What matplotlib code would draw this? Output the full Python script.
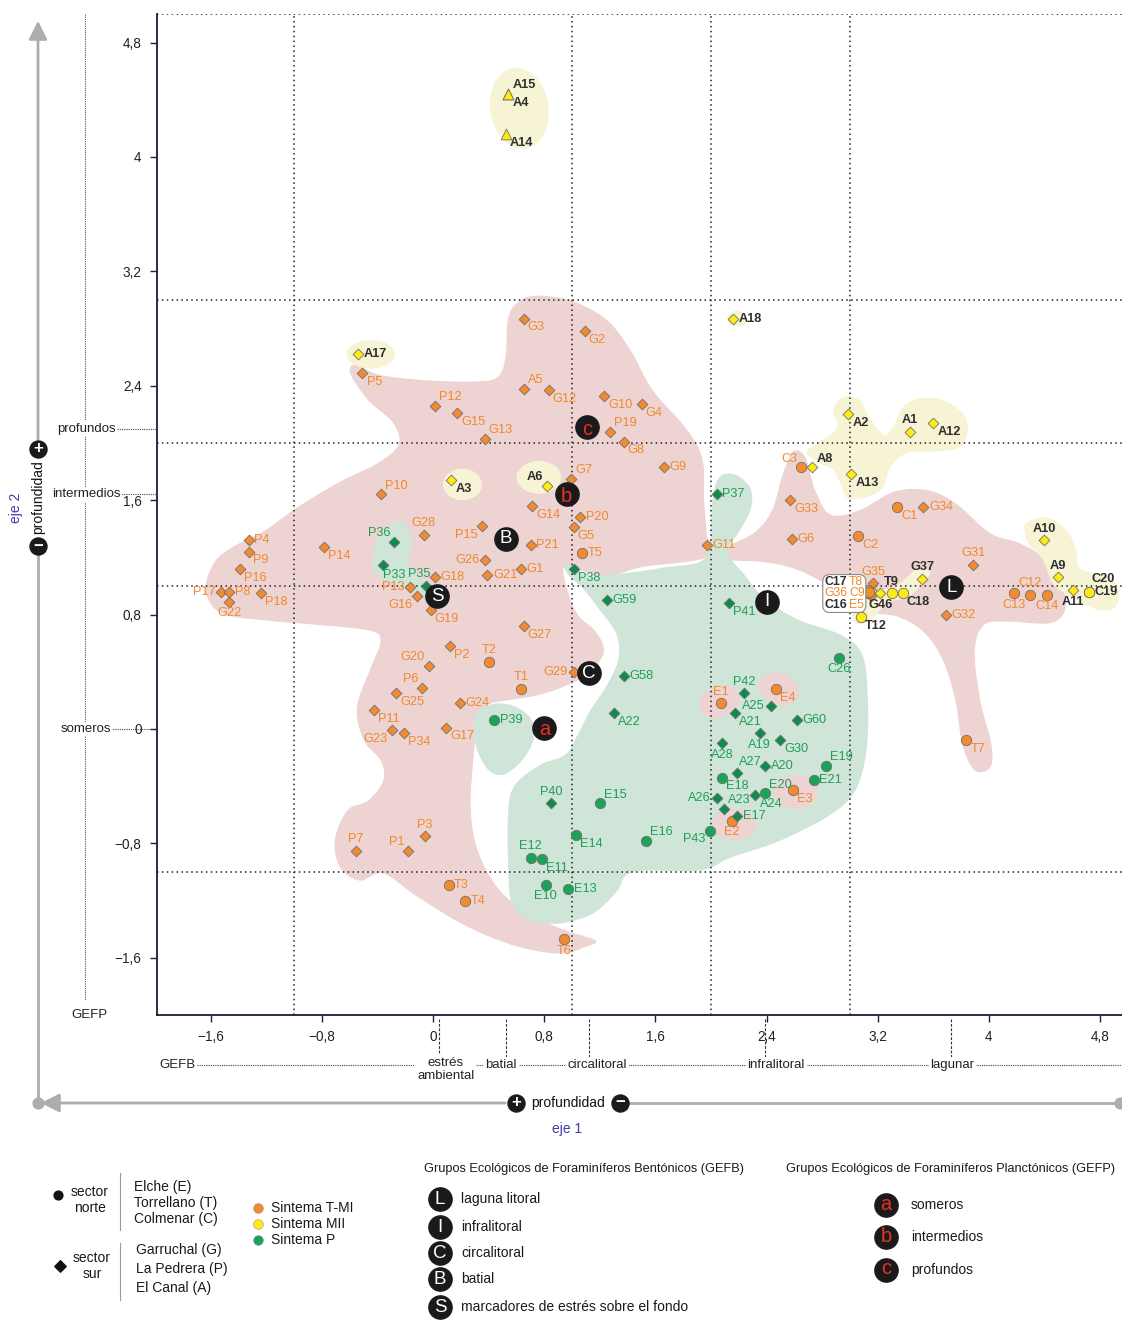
import numpy as np
import matplotlib
matplotlib.use("Agg")
import matplotlib.pyplot as plt
from matplotlib import font_manager, transforms
from matplotlib.patches import Polygon, Ellipse, FancyBboxPatch
from matplotlib.ticker import FuncFormatter

# ---------------------------------------------------------------- samples
# Sintema T-MI, sector sur (diamonds)
tmi_sur_names = ['P5', 'P12', 'G15', 'G13', 'G3', 'G2', 'A5', 'G12', 'G10', 'G4',
                 'P19', 'G8', 'G9', 'G7', 'G14', 'P20', 'G5', 'P15', 'P21', 'P10',
                 'G28', 'P4', 'P9', 'P14', 'P16', 'P17', 'P8', 'G22', 'P18', 'G18',
                 'P13', 'G16', 'G19', 'G26', 'G1', 'G21', 'G27', 'P2', 'G20', 'P6',
                 'G25', 'P11', 'G23', 'P34', 'G17', 'G24', 'G29', 'G11', 'G33', 'G6',
                 'G34', 'G31', 'G35', 'G32', 'G36', 'P3', 'P7', 'P1']
tmi_sur_x = [-0.51, 0.01, 0.17, 0.37, 0.65, 1.09, 0.65, 0.83, 1.23, 1.50,
             1.27, 1.37, 1.66, 0.99, 0.71, 1.06, 1.01, 0.35, 0.70, -0.38,
             -0.07, -1.33, -1.33, -0.79, -1.39, -1.53, -1.47, -1.47, -1.24, 0.01,
             -0.17, -0.12, -0.02, 0.37, 0.63, 0.39, 0.65, 0.12, -0.03, -0.08,
             -0.27, -0.43, -0.30, -0.21, 0.09, 0.19, 1.01, 1.97, 2.57, 2.58,
             3.53, 3.89, 3.17, 3.69, 3.15, -0.06, -0.56, -0.18]
tmi_sur_y = [2.49, 2.26, 2.21, 2.03, 2.87, 2.78, 2.38, 2.37, 2.33, 2.27,
             2.08, 2.01, 1.83, 1.75, 1.56, 1.48, 1.41, 1.42, 1.29, 1.64,
             1.36, 1.32, 1.24, 1.27, 1.12, 0.96, 0.96, 0.89, 0.95, 1.06,
             0.99, 0.93, 0.83, 1.18, 1.12, 1.08, 0.72, 0.58, 0.44, 0.29,
             0.25, 0.13, -0.01, -0.03, 0.01, 0.18, 0.40, 1.29, 1.60, 1.33,
             1.55, 1.15, 1.02, 0.80, 0.93, -0.75, -0.85, -0.85]

# Sintema T-MI, sector norte (circles)
tmi_norte_names = ['T5', 'T2', 'T1', 'C3', 'C1', 'C2', 'T8', 'E5', 'C9', 'C13',
                   'C12', 'C14', 'T7', 'E1', 'E4', 'E3', 'E2', 'T3', 'T4', 'T6']
tmi_norte_x = [1.07, 0.40, 0.63, 2.65, 3.34, 3.06, 3.13, 3.13, 3.14, 4.18,
               4.30, 4.42, 3.84, 2.07, 2.47, 2.59, 2.15, 0.11, 0.23, 0.94]
tmi_norte_y = [1.23, 0.47, 0.28, 1.83, 1.55, 1.35, 0.97, 0.95, 0.96, 0.95,
               0.94, 0.94, -0.08, 0.18, 0.28, -0.43, -0.64, -1.09, -1.20, -1.47]

# Sintema MII, sector sur (diamonds)
mii_sur_names = ['A17', 'A3', 'A6', 'A18', 'A2', 'A1', 'A12', 'A8', 'A13', 'A10',
                 'A9', 'A11', 'G37', 'G46']
mii_sur_x = [-0.54, 0.13, 0.82, 2.16, 2.99, 3.43, 3.60, 2.73, 3.01, 4.40,
             4.50, 4.61, 3.52, 3.22]
mii_sur_y = [2.62, 1.74, 1.70, 2.87, 2.20, 2.08, 2.14, 1.83, 1.78, 1.32,
             1.06, 0.97, 1.05, 0.95]

# Sintema MII, sector sur, off the lower scale (triangles)
mii_high_names = ['A15', 'A4', 'A14']
mii_high_x = [0.54, 0.54, 0.52]
mii_high_y = [4.44, 4.44, 4.16]

# Sintema MII, sector norte (circles)
mii_norte_names = ['C17', 'C16', 'T9', 'C18', 'T12', 'C19', 'C20']
mii_norte_x = [3.15, 3.15, 3.30, 3.38, 3.08, 4.72, 4.72]
mii_norte_y = [0.96, 0.96, 0.95, 0.95, 0.78, 0.96, 0.96]

# Sintema P, sector sur (diamonds)
p_sur_names = ['P36', 'P33', 'P35', 'P37', 'P38', 'G59', 'G58', 'A22', 'P41', 'P42',
               'A25', 'A21', 'G60', 'A19', 'G30', 'A28', 'A20', 'A27', 'A24', 'A26',
               'A23', 'E17', 'P40']
p_sur_x = [-0.28, -0.36, -0.05, 2.04, 1.01, 1.25, 1.37, 1.30, 2.13, 2.24,
           2.43, 2.17, 2.62, 2.35, 2.50, 2.08, 2.39, 2.19, 2.32, 2.04,
           2.09, 2.19, 0.85]
p_sur_y = [1.31, 1.15, 1.00, 1.64, 1.12, 0.90, 0.37, 0.11, 0.88, 0.25,
           0.16, 0.11, 0.06, -0.03, -0.08, -0.10, -0.26, -0.31, -0.46, -0.48,
           -0.56, -0.61, -0.52]

# Sintema P, sector norte (circles)
p_norte_names = ['P39', 'C26', 'E19', 'E18', 'E21', 'E20', 'P43', 'E15', 'E14', 'E16',
                 'E12', 'E11', 'E10', 'E13']
p_norte_x = [0.44, 2.92, 2.83, 2.08, 2.74, 2.39, 1.99, 1.20, 1.03, 1.53,
             0.70, 0.78, 0.81, 0.97]
p_norte_y = [0.06, 0.50, -0.26, -0.34, -0.36, -0.45, -0.71, -0.52, -0.74, -0.78,
             -0.90, -0.91, -1.09, -1.12]

# centroids of the ecological groups
gefb_letters = ['L', 'I', 'C', 'B', 'S']
gefb_x = [3.73, 2.40, 1.12, 0.52, 0.03]
gefb_y = [0.99, 0.89, 0.39, 1.33, 0.93]
gefp_letters = ['a', 'b', 'c']
gefp_x = [0.80, 0.96, 1.11]
gefp_y = [0.01, 1.64, 2.11]

# GEFB zones along eje 1, GEFP levels along eje 2
gefb_breaks = [0.04, 0.52, 1.12, 2.39, 3.73]
gefb_zone_names = ['estrés\nambiental', 'batial', 'circalitoral', 'infralitoral', 'lagunar']
gefb_zone_x = [0.09, 0.49, 1.18, 2.47, 3.74]
gefp_level_names = ['profundos', 'intermedios', 'someros']
gefp_levels = [2.10, 1.64, 0.0]

# ---------------------------------------------------------------- envelopes
pink_main_x = [-1.64, -1.58, -1.45, -1.21, -0.98, -0.67, -0.40, -0.25, -0.29, -0.47,
               -0.60, -0.55, -0.40, -0.07, 0.29, 0.46, 0.52, 0.54, 0.63, 0.77,
               1.01, 1.25, 1.42, 1.58, 1.83, 1.94, 1.95, 1.97, 1.97, 1.49,
               1.25, 1.06, 0.94, 0.97, 1.04, 1.17, 1.23, 1.16, 1.02, 0.77,
               0.53, 0.40, 0.32, 0.29, 0.27, 0.32, 0.48, 0.72, 0.96, 1.17,
               1.08, 0.91, 0.60, 0.24, -0.12, -0.36, -0.53, -0.67, -0.71, -0.62,
               -0.47, -0.36, -0.38, -0.50, -0.55, -0.45, -0.38, -0.47, -0.86, -1.22,
               -1.53]
pink_main_y = [0.97, 1.16, 1.27, 1.39, 1.55, 1.73, 1.86, 1.99, 2.14, 2.30,
               2.49, 2.55, 2.48, 2.44, 2.43, 2.46, 2.60, 2.88, 3.00, 3.03,
               2.99, 2.86, 2.65, 2.37, 2.09, 1.88, 1.60, 1.36, 1.20, 1.13,
               1.06, 1.11, 1.13, 0.96, 0.80, 0.68, 0.55, 0.43, 0.33, 0.24,
               0.20, 0.17, 0.06, -0.20, -0.55, -0.85, -1.13, -1.31, -1.41, -1.48,
               -1.53, -1.57, -1.52, -1.38, -1.17, -1.01, -1.06, -0.97, -0.78, -0.57,
               -0.50, -0.36, -0.22, -0.08, 0.15, 0.43, 0.62, 0.69, 0.73, 0.76,
               0.81]

pink_right_x = [1.96, 2.14, 2.32, 2.44, 2.51, 2.59, 2.68, 2.75, 2.86, 3.07,
                3.32, 3.56, 3.76, 4.01, 4.22, 4.42, 4.53, 4.55, 4.44, 4.15,
                3.97, 3.90, 3.94, 4.02, 4.01, 3.90, 3.81, 3.76, 3.67, 3.54,
                3.36, 3.14, 3.00, 2.78, 2.57, 2.35, 2.14]
pink_right_y = [1.23, 1.29, 1.38, 1.53, 1.76, 1.94, 1.90, 1.67, 1.50, 1.53,
                1.66, 1.67, 1.58, 1.37, 1.30, 1.18, 1.01, 0.83, 0.74, 0.75,
                0.73, 0.55, 0.20, -0.11, -0.27, -0.29, -0.11, 0.20, 0.48, 0.67,
                0.78, 0.82, 0.90, 1.04, 1.13, 1.17, 1.18]

green_main_x = [0.95, 1.13, 1.38, 1.67, 1.92, 1.99, 2.01, 2.06, 2.17, 2.28,
                2.29, 2.21, 2.12, 2.24, 2.40, 2.64, 2.93, 3.09, 3.13, 3.12,
                3.04, 2.86, 2.50, 2.14, 1.92, 1.44, 1.32, 1.15, 0.91, 0.70,
                0.57, 0.54, 0.54, 0.59, 0.77, 0.95, 1.04, 1.13, 1.24, 1.33,
                1.32, 1.20, 1.07, 0.97]
green_main_y = [1.16, 1.08, 1.09, 1.13, 1.17, 1.29, 1.60, 1.76, 1.78, 1.69,
                1.55, 1.39, 1.24, 1.08, 0.90, 0.76, 0.66, 0.52, 0.20, -0.15,
                -0.43, -0.60, -0.78, -0.90, -0.99, -1.00, -1.14, -1.29, -1.36, -1.34,
                -1.23, -0.99, -0.57, -0.39, -0.25, -0.18, -0.04, 0.13, 0.29, 0.48,
                0.66, 0.83, 0.99, 1.08]

green_p36_x = [-0.44, -0.40, -0.27, -0.18, -0.15, -0.18, -0.09, 0.00, -0.06, -0.20, -0.35, -0.43]
green_p36_y = [1.18, 1.34, 1.45, 1.41, 1.29, 1.15, 1.06, 0.97, 0.93, 0.99, 1.04, 1.10]

green_p39_x = [0.31, 0.41, 0.55, 0.68, 0.73, 0.70, 0.61, 0.50, 0.40, 0.32, 0.29]
green_p39_y = [0.10, 0.17, 0.17, 0.10, -0.01, -0.13, -0.25, -0.32, -0.29, -0.16, -0.02]

yellow_a2_x = [2.88, 2.95, 3.07, 3.14, 3.24, 3.31, 3.38, 3.50, 3.67, 3.81,
               3.85, 3.79, 3.60, 3.41, 3.29, 3.24, 3.12, 2.98, 2.93, 2.88,
               2.78, 2.69, 2.76, 2.88, 2.91]
yellow_a2_y = [2.23, 2.32, 2.30, 2.18, 2.06, 2.11, 2.25, 2.31, 2.30, 2.21,
               2.09, 1.97, 1.94, 1.93, 1.83, 1.69, 1.62, 1.62, 1.72, 1.81,
               1.86, 1.93, 2.00, 2.07, 2.14]

yellow_a10_x = [4.27, 4.42, 4.56, 4.63, 4.65, 4.76, 4.88, 4.94, 4.91, 4.80,
                4.68, 4.56, 4.46, 4.39, 4.29, 4.26]
yellow_a10_y = [1.44, 1.48, 1.39, 1.25, 1.13, 1.09, 1.06, 0.96, 0.85, 0.83,
                0.88, 0.94, 1.02, 1.18, 1.29, 1.37]

yellow_t12_x = [3.02, 3.07, 3.17, 3.27, 3.41, 3.50, 3.58, 3.50, 3.41, 3.31, 3.19, 3.09, 3.04]
yellow_t12_y = [0.78, 0.73, 0.78, 0.88, 0.92, 0.99, 1.09, 1.13, 1.06, 0.99, 0.97, 0.90, 0.85]

# small envelopes: centre x, centre y, width, height, angle
yellow_spots = [(0.62, 4.34, 0.42, 0.57, 10), (-0.45, 2.62, 0.35, 0.20, 0),
                (0.21, 1.71, 0.28, 0.22, 0), (0.76, 1.76, 0.32, 0.23, 0),
                (2.19, 2.87, 0.14, 0.11, 0)]
pink_spots = [(2.06, 0.19, 0.30, 0.22, 20), (2.49, 0.28, 0.30, 0.22, -20),
              (2.61, -0.44, 0.32, 0.24, 0), (2.17, -0.67, 0.32, 0.22, 0)]

# ---------------------------------------------------------------- styles
PINK, GREEN_BG, YELLOW_BG = '#EDD4D2', '#CFE5D7', '#F7F3D5'
ORANGE, YELLOW, GREEN_DOT, GREEN_DIA = '#F28A30', '#FFEA12', '#1CA35A', '#0E8C4A'
ORANGE_TXT, GREEN_TXT, DARK_TXT = '#F0882E', '#1E9F57', '#2E2E2E'
BLUE_TXT = '#3D3DAB'
GRID = '#222222'
DOTS = (0, (1, 2.2))
LABEL_FS = 9.2

label_side = {
    'P5': 'br', 'P12': 'ar', 'G15': 'br', 'G13': 'ar', 'G3': 'br', 'G2': 'br', 'A5': 'ar',
    'G12': 'br', 'G10': 'br', 'G4': 'br', 'P19': 'ar', 'G8': 'br', 'G7': 'ar', 'G14': 'br',
    'G5': 'br', 'P15': 'bl', 'P10': 'ar', 'G28': 'a', 'P9': 'br', 'P14': 'br', 'P16': 'br',
    'P17': 'l', 'G22': 'b', 'P18': 'br', 'P13': 'l', 'G16': 'bl', 'G19': 'br', 'G26': 'l',
    'G27': 'br', 'P2': 'br', 'G20': 'al', 'P6': 'al', 'G25': 'br', 'P11': 'br', 'G23': 'bl',
    'P34': 'br', 'G17': 'br', 'G29': 'l', 'G33': 'br', 'G31': 'a', 'G35': 'a', 'P3': 'a',
    'P7': 'a', 'P1': 'al',
    'T2': 'a', 'T1': 'a', 'C3': 'al', 'C1': 'br', 'C2': 'br', 'C13': 'b', 'C12': 'a',
    'C14': 'b', 'T7': 'br', 'E1': 'a', 'E4': 'br', 'E3': 'br', 'E2': 'b', 'T6': 'b',
    'A3': 'br', 'A6': 'al', 'A2': 'br', 'A1': 'a', 'A12': 'br', 'A8': 'ar', 'A13': 'br',
    'A10': 'a', 'A9': 'a', 'A11': 'b', 'G37': 'a', 'G46': 'b', 'A15': 'ar', 'A4': 'br',
    'A14': 'br', 'T9': 'a', 'C18': 'br', 'T12': 'br', 'C20': (2, 5, 'left', 'bottom'),
    'P36': 'al', 'P33': (0, -3, 'left', 'top'), 'P35': (3, 4, 'right', 'bottom'),
    'P38': 'br', 'A22': 'br', 'P41': 'br', 'P42': 'a',
    'A25': 'l', 'A21': 'br', 'A19': 'b', 'G30': 'br', 'A28': 'b', 'A27': (1, 4, 'left', 'bottom'),
    'A24': 'br', 'A26': 'l', 'A23': 'ar', 'P40': 'a', 'C26': 'b', 'E19': 'ar', 'E18': 'br',
    'E20': 'ar', 'P43': 'bl', 'E15': 'ar', 'E14': 'br', 'E16': 'ar', 'E12': 'a', 'E11': 'br',
    'E10': 'b',
}
# crowded cluster: names written inside a small framed box
box_labels = {'C17': (2.90, 1.03), 'T8': (3.045, 1.03), 'G36': (2.90, 0.95),
              'C9': (3.05, 0.95), 'C16': (2.90, 0.87), 'E5': (3.05, 0.87)}
OFFSETS = {'r': (4, 0, 'left', 'center'), 'l': (-4, 0, 'right', 'center'),
           'a': (0, 4, 'center', 'bottom'), 'b': (0, -4, 'center', 'top'),
           'ar': (3, 2, 'left', 'bottom'), 'br': (3, -2, 'left', 'top'),
           'al': (-3, 2, 'right', 'bottom'), 'bl': (-3, -2, 'right', 'top')}

installed = {f.name for f in font_manager.fontManager.ttflist}
NARROW = 'Liberation Sans Narrow' if 'Liberation Sans Narrow' in installed else 'Liberation Sans'
LEG_FS = 11 if NARROW == 'Liberation Sans Narrow' else 10
TITLE_FS = 11 if NARROW == 'Liberation Sans Narrow' else 9.2
plt.rcParams['font.family'] = ['Liberation Sans', 'DejaVu Sans']


def smooth_closed(xs, ys, n=14):
    """Closed Catmull-Rom curve through the outline vertices."""
    pts = np.column_stack([xs, ys])
    t = np.linspace(0, 1, n, endpoint=False)[:, None]
    segs = []
    for i in range(len(pts)):
        p0, p1 = pts[i - 1], pts[i]
        p2, p3 = pts[(i + 1) % len(pts)], pts[(i + 2) % len(pts)]
        segs.append(0.5 * (2 * p1 + (p2 - p0) * t + (2 * p0 - 5 * p1 + 4 * p2 - p3) * t ** 2
                           + (3 * p1 - p0 - 3 * p2 + p3) * t ** 3))
    return np.vstack(segs)


def tick_fmt(v, pos):
    s = f"{round(v, 1) + 0.0:.1f}".rstrip('0').rstrip('.')
    return s.replace('.', ',').replace('-', '\u2212')


# ---------------------------------------------------------------- figure
fig = plt.figure(figsize=(11.22, 13.2), dpi=100)
ov = fig.add_axes([0, 0, 1, 1], zorder=0)
ov.set_xlim(0, 1122)
ov.set_ylim(1320, 0)
ov.axis('off')

ax = fig.add_axes([157 / 1122, 1 - 1015 / 1320, 965 / 1122, 1001 / 1320], zorder=1)
ax.set_xlim(-1.99, 4.96)
ax.set_ylim(-2.0, 5.0)
ax.patch.set_alpha(0)

# envelopes
for xs, ys, col in [(pink_main_x, pink_main_y, PINK), (pink_right_x, pink_right_y, PINK),
                    (green_main_x, green_main_y, GREEN_BG), (green_p36_x, green_p36_y, GREEN_BG),
                    (green_p39_x, green_p39_y, GREEN_BG), (yellow_a2_x, yellow_a2_y, YELLOW_BG),
                    (yellow_a10_x, yellow_a10_y, YELLOW_BG), (yellow_t12_x, yellow_t12_y, YELLOW_BG)]:
    ax.add_patch(Polygon(smooth_closed(xs, ys), closed=True, fc=col, ec='none', zorder=1))
for spots, col in [(yellow_spots, YELLOW_BG), (pink_spots, PINK)]:
    for cx, cy, w, h, ang in spots:
        ax.add_patch(Ellipse((cx, cy), w, h, angle=ang, fc=col, ec='none', zorder=1.1))

# axes, ticks and dotted grid
ax.set_xticks(np.arange(-1.6, 4.81, 0.8))
ax.set_yticks(np.arange(-1.6, 4.81, 0.8))
ax.set_xticks(np.arange(-1, 5), minor=True)
ax.set_yticks(np.arange(-1, 6), minor=True)
ax.xaxis.set_major_formatter(FuncFormatter(tick_fmt))
ax.yaxis.set_major_formatter(FuncFormatter(tick_fmt))
ax.grid(which='minor', color=GRID, lw=1.1, ls=DOTS)
ax.tick_params(which='minor', length=0)
ax.tick_params(which='major', length=5, width=1, color='#222233', labelsize=9.8,
               labelcolor='#222222', pad=6)
for side in ['top', 'right']:
    ax.spines[side].set_visible(False)
for side in ['left', 'bottom']:
    ax.spines[side].set_color('#1C1C30')
    ax.spines[side].set_linewidth(1.3)


def draw_group(names, xs, ys, marker, size, face, txt_col, weight='normal'):
    ax.scatter(xs, ys, marker=marker, s=size, c=face, edgecolors='#707070',
               linewidths=0.6, zorder=4, clip_on=False)
    for n, x, y in zip(names, xs, ys):
        if n in box_labels:
            continue
        side = label_side.get(n, 'r')
        dx, dy, ha, va = OFFSETS[side] if isinstance(side, str) else side
        ax.annotate(n, (x, y), xytext=(dx, dy), textcoords='offset points', ha=ha, va=va,
                    fontsize=LABEL_FS, color=txt_col, fontweight=weight, zorder=6)


draw_group(mii_norte_names, mii_norte_x, mii_norte_y, 'o', 56, YELLOW, DARK_TXT, 'bold')
draw_group(mii_sur_names, mii_sur_x, mii_sur_y, 'D', 30, YELLOW, DARK_TXT, 'bold')
draw_group(mii_high_names, mii_high_x, mii_high_y, '^', 60, YELLOW, DARK_TXT, 'bold')
draw_group(tmi_sur_names, tmi_sur_x, tmi_sur_y, 'D', 30, ORANGE, ORANGE_TXT)
draw_group(tmi_norte_names, tmi_norte_x, tmi_norte_y, 'o', 56, ORANGE, ORANGE_TXT)
draw_group(p_sur_names, p_sur_x, p_sur_y, 'D', 30, GREEN_DIA, GREEN_TXT)
draw_group(p_norte_names, p_norte_x, p_norte_y, 'o', 56, GREEN_DOT, GREEN_TXT)

# framed names of the crowded cluster
ax.add_patch(FancyBboxPatch((2.805, 0.815), 0.31, 0.265, boxstyle='round,pad=0.0,rounding_size=0.05',
                            fc='white', ec='#8A8A8A', lw=0.8, zorder=5))
mii_set = set(mii_norte_names)
for n, (tx, ty) in box_labels.items():
    ax.text(tx, ty, n, ha='center', va='center', fontsize=8.8, zorder=6,
            color=DARK_TXT if n in mii_set else ORANGE_TXT,
            fontweight='bold' if n in mii_set else 'normal')

# group centroids
ax.scatter(gefb_x, gefb_y, s=280, c='#1A1A1A', zorder=7)
for l, x, y in zip(gefb_letters, gefb_x, gefb_y):
    ax.text(x, y, l, ha='center', va='center', color='white', fontsize=13.5, zorder=8)
ax.scatter(gefp_x, gefp_y, s=280, c='#1A1A1A', zorder=7)
for l, x, y in zip(gefp_letters, gefp_x, gefp_y):
    ax.text(x, y - 0.015, l, ha='center', va='center', color='#E8302A', fontsize=14.5, zorder=8)

# GEFB zones under eje 1
bx = transforms.blended_transform_factory(ax.transData, ax.transAxes)
for b in gefb_breaks:
    ax.plot([b, b], [-0.004, -0.043], transform=bx, color='#333333', lw=0.8,
            ls=(0, (2.5, 1.5)), clip_on=False)
ax.plot([-1.70, 4.96], [-0.050, -0.050], transform=bx, color='#444444', lw=0.8,
        ls=(0, (1, 1)), clip_on=False)
ax.text(-1.84, -0.050, 'GEFB', transform=bx, ha='center', va='center', fontsize=LEG_FS - 0.5,
        family=NARROW, color='#222222')
for name, x in zip(gefb_zone_names, gefb_zone_x):
    ax.text(x, -0.050 if '\n' not in name else -0.054, name, transform=bx, ha='center',
            va='center', fontsize=LEG_FS - 0.5, family=NARROW, color='#222222', linespacing=1.1,
            bbox=dict(fc='white', ec='none', pad=1.2), zorder=5)

# GEFP levels along eje 2
ly = transforms.blended_transform_factory(ov.transData, ax.transData)
ov.plot([85, 85], [14, 1000], color='#555555', lw=0.8, ls=(0, (1, 1)))
for name, lev in zip(gefp_level_names, gefp_levels):
    ov.plot([86, 157], [lev, lev], transform=ly, color='#444444', lw=0.8, ls=(0, (1, 1)))
    ov.text(86, lev, name, transform=ly, ha='center', va='center', fontsize=LEG_FS - 0.5,
            family=NARROW, color='#222222', bbox=dict(fc='white', ec='none', pad=1.0))
ov.text(89, 1015, 'GEFP', ha='center', va='center', fontsize=LEG_FS - 0.5, family=NARROW,
        color='#222222', bbox=dict(fc='white', ec='none', pad=1.0))

# eje 1 / eje 2 arrows
ARROW = '#ADADAD'
ov.plot([38, 38], [1103, 554], color=ARROW, lw=2)
ov.annotate('', xy=(38, 18), xytext=(38, 442),
            arrowprops=dict(arrowstyle='-|>', color=ARROW, lw=2, mutation_scale=28))
ov.plot([628, 1120], [1103, 1103], color=ARROW, lw=2)
ov.annotate('', xy=(38, 1103), xytext=(508, 1103),
            arrowprops=dict(arrowstyle='-|>', color=ARROW, lw=2, mutation_scale=28))
ov.scatter([38, 1120], [1103, 1103], s=60, c=ARROW, zorder=3)
ov.scatter([38, 38, 516, 620], [449, 546, 1103, 1103], s=150, c='#1A1A1A', zorder=4)
for x, y, sgn in [(38, 449, '+'), (38, 546, '\u2212'), (516, 1103, '+'), (620, 1103, '\u2212')]:
    ov.text(x, y, sgn, ha='center', va='center', color='white', fontsize=12,
            fontweight='bold', zorder=5)
ov.text(38, 497, 'profundidad', rotation=90, ha='center', va='center', fontsize=LEG_FS,
        family=NARROW, color='#111111')
ov.text(568, 1103, 'profundidad', ha='center', va='center', fontsize=LEG_FS,
        family=NARROW, color='#111111')
ov.text(16, 508, 'eje 2', rotation=90, ha='center', va='center', fontsize=LEG_FS,
        family=NARROW, color=BLUE_TXT)
ov.text(567, 1129, 'eje 1', ha='center', va='center', fontsize=LEG_FS,
        family=NARROW, color=BLUE_TXT)

# ---------------------------------------------------------------- legend
norte_sites = ['Elche (E)', 'Torrellano (T)', 'Colmenar (C)']
sur_sites = ['Garruchal (G)', 'La Pedrera (P)', 'El Canal (A)']
sintemas = ['Sintema T-MI', 'Sintema MII', 'Sintema P']
sintema_cols = [ORANGE, YELLOW, GREEN_DOT]
gefb_legend = ['laguna litoral', 'infralitoral', 'circalitoral', 'batial',
               'marcadores de estrés sobre el fondo']
gefp_legend = ['someros', 'intermedios', 'profundos']

kw = dict(fontsize=LEG_FS, family=NARROW, color='#1A1A1A', va='center')
ov.scatter([58], [1195], s=40, c='#111111', marker='o')
ov.scatter([60], [1266], s=34, c='#111111', marker='D')
ov.text(90, 1200, 'sector\nnorte', ha='center', linespacing=1.25, **kw)
ov.text(92, 1266, 'sector\nsur', ha='center', linespacing=1.25, **kw)
ov.plot([120, 120], [1173, 1230], color='#999999', lw=0.8)
ov.plot([120, 120], [1243, 1300], color='#999999', lw=0.8)
for i, s in enumerate(norte_sites):
    ov.text(134, 1187 + 16 * i, s, ha='left', **kw)
for i, s in enumerate(sur_sites):
    ov.text(136, 1250 + 19 * i, s, ha='left', **kw)
for i, (s, c) in enumerate(zip(sintemas, sintema_cols)):
    ov.scatter([258], [1208 + 16 * i], s=50, c=c, edgecolors='#9A9A9A', linewidths=0.4)
    ov.text(271, 1208 + 16 * i, s, ha='left', **kw)

title_kw = dict(kw, fontsize=TITLE_FS)
ov.text(424, 1169, 'Grupos Ecológicos de Foraminíferos Bentónicos (GEFB)', ha='left', **title_kw)
ov.text(1115, 1169, 'Grupos Ecológicos de Foraminíferos Planctónicos (GEFP)', ha='right', **title_kw)
gefb_rows = [1199, 1227, 1253, 1279, 1307]
ov.scatter([440] * 5, gefb_rows, s=280, c='#1A1A1A', zorder=3)
for l, s, y in zip(gefb_letters, gefb_legend, gefb_rows):
    ov.text(440, y, l, ha='center', va='center', color='white', fontsize=13.5, zorder=4)
    ov.text(461, y, s, ha='left', **kw)
gefp_rows = [1205, 1237, 1270]
ov.scatter([886] * 3, gefp_rows, s=280, c='#1A1A1A', zorder=3)
for l, s, y in zip(gefp_letters, gefp_legend, gefp_rows):
    ov.text(886, y - 1, l, ha='center', va='center', color='#E8302A', fontsize=14.5, zorder=4)
    ov.text(911, y, s, ha='left', **kw)

fig.savefig('out.png', dpi=100)
